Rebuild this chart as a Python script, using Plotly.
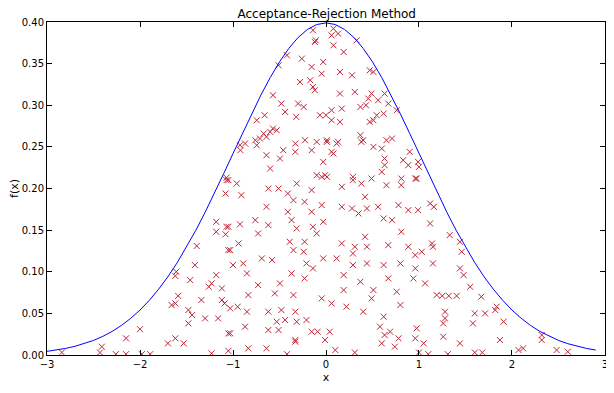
import plotly.graph_objects as go

# Normal density curve (x grid and f(x) values)
curve_x = [-3.0, -2.9, -2.8, -2.7, -2.6, -2.5, -2.4, -2.3, -2.2, -2.1,
           -2.0, -1.9, -1.8, -1.7, -1.6, -1.5, -1.4, -1.3, -1.2, -1.1,
           -1.0, -0.9, -0.8, -0.7, -0.6, -0.5, -0.4, -0.3, -0.2, -0.1,
           0.0, 0.1, 0.2, 0.3, 0.4, 0.5, 0.6, 0.7, 0.8, 0.9,
           1.0, 1.1, 1.2, 1.3, 1.4, 1.5, 1.6, 1.7, 1.8, 1.9,
           2.0, 2.1, 2.2, 2.3, 2.4, 2.5, 2.6, 2.7, 2.8, 2.9]
curve_y = [0.0044, 0.0060, 0.0079, 0.0104, 0.0136, 0.0175, 0.0224, 0.0283, 0.0355, 0.0440,
           0.0540, 0.0656, 0.0790, 0.0940, 0.1109, 0.1295, 0.1497, 0.1714, 0.1942, 0.2179,
           0.2420, 0.2661, 0.2897, 0.3123, 0.3332, 0.3521, 0.3683, 0.3814, 0.3910, 0.3970,
           0.3989, 0.3970, 0.3910, 0.3814, 0.3683, 0.3521, 0.3332, 0.3123, 0.2897, 0.2661,
           0.2420, 0.2179, 0.1942, 0.1714, 0.1497, 0.1295, 0.1109, 0.0940, 0.0790, 0.0656,
           0.0540, 0.0440, 0.0355, 0.0283, 0.0224, 0.0175, 0.0136, 0.0104, 0.0079, 0.0060]

# Accepted samples (x, y)
accepted = [
    (-2.84, 0.003), (-2.41, 0.010), (-2.43, 0.003), (-2.26, 0.001), (-2.15, 0.001),
    (-2.15, 0.020), (-2.00, 0.031), (-1.98, 0.001), (-1.89, 0.001), (-1.70, 0.014),
    (-1.62, 0.020), (-1.53, 0.014), (-1.61, 0.100), (-1.62, 0.095), (-1.59, 0.071),
    (-1.66, 0.060), (-1.62, 0.062), (-1.46, 0.090), (-1.41, 0.108), (-1.39, 0.131),
    (-1.48, 0.054), (-1.44, 0.048), (-1.48, 0.038), (-1.34, 0.066), (-1.30, 0.044),
    (-1.23, 0.086), (-1.26, 0.082), (-1.16, 0.044), (-1.18, 0.096), (-1.12, 0.080),
    (-1.12, 0.066), (-1.09, 0.062), (-1.18, 0.148), (-1.18, 0.160), (-1.07, 0.154),
    (-1.08, 0.145), (-1.08, 0.194), (-1.07, 0.210), (-1.23, 0.002), (-1.05, 0.026),
    (-1.05, 0.005), (-1.05, 0.126),
    (-1.07, 0.213), (-0.925, 0.252), (-0.92, 0.246), (-0.87, 0.254), (-0.745, 0.252),
    (-0.76, 0.258), (-0.71, 0.260), (-0.67, 0.266), (-0.64, 0.262), (-0.60, 0.268),
    (-0.57, 0.272), (-0.53, 0.270), (-0.745, 0.282), (-0.66, 0.288), (-0.64, 0.240),
    (-0.60, 0.224), (-0.495, 0.236), (-0.46, 0.246), (-0.33, 0.244), (-0.33, 0.254),
    (-0.226, 0.258), (-0.154, 0.246), (-0.10, 0.256), (0.01, 0.258), (-0.03, 0.232),
    (-0.10, 0.216), (-0.01, 0.216), (-0.57, 0.312), (-0.48, 0.302), (-0.44, 0.292),
    (-0.32, 0.286), (-0.30, 0.302), (-0.24, 0.298), (-0.28, 0.328), (-0.17, 0.330),
    (-0.14, 0.322), (-0.12, 0.318), (-0.154, 0.346), (-0.046, 0.338), (-0.03, 0.352),
    (-0.26, 0.356), (-0.42, 0.360), (-0.51, 0.348), (-0.12, 0.376), (-0.11, 0.378),
    (-0.14, 0.390), (-0.065, 0.288), (0.0, 0.288),
    (0.08, 0.392), (0.13, 0.386), (0.06, 0.384), (0.08, 0.372), (0.19, 0.364),
    (0.33, 0.378), (0.15, 0.340), (0.28, 0.336), (0.47, 0.342), (0.51, 0.340),
    (0.31, 0.316), (0.15, 0.314), (0.49, 0.314), (0.455, 0.308), (0.56, 0.306),
    (0.63, 0.314), (0.67, 0.302), (0.76, 0.294), (0.37, 0.298), (0.43, 0.300),
    (0.06, 0.294), (0.17, 0.296), (0.06, 0.282), (0.15, 0.280), (0.47, 0.280),
    (0.51, 0.282), (0.545, 0.288), (0.62, 0.290), (0.37, 0.264), (0.38, 0.256),
    (0.40, 0.258), (0.65, 0.258), (0.71, 0.260), (0.51, 0.250), (0.60, 0.248),
    (0.01, 0.256), (0.115, 0.254), (0.13, 0.256), (0.06, 0.244), (0.08, 0.242),
    (0.63, 0.236), (0.63, 0.228), (0.60, 0.220), (0.83, 0.234), (0.90, 0.244),
    (0.885, 0.228), (0.99, 0.232), (1.0, 0.226), (0.01, 0.214), (0.29, 0.214),
    (0.49, 0.212), (0.81, 0.212), (0.96, 0.212),
    (-1.05, 0.210), (-0.96, 0.206), (-0.91, 0.192), (-0.62, 0.200), (-0.51, 0.200),
    (-0.315, 0.206), (-0.41, 0.194), (-0.35, 0.186), (-0.154, 0.198), (-0.23, 0.184),
    (-0.046, 0.214), (0.38, 0.206), (0.17, 0.202), (0.29, 0.210), (0.65, 0.204),
    (0.81, 0.204), (0.975, 0.212), (0.42, 0.190), (0.17, 0.178), (0.28, 0.176),
    (0.35, 0.170), (0.44, 0.176), (0.56, 0.178), (0.78, 0.180), (0.885, 0.174),
    (0.99, 0.174), (-0.64, 0.178), (-0.41, 0.172), (-0.154, 0.172), (-0.046, 0.180),
    (-0.76, 0.162), (-0.62, 0.156), (-0.925, 0.157), (-1.05, 0.154), (-0.73, 0.146),
    (-0.37, 0.162), (-0.315, 0.152), (-0.14, 0.154), (-0.10, 0.146), (-0.03, 0.160),
    (0.62, 0.164), (0.71, 0.162), (0.42, 0.142), (0.81, 0.148), (-0.94, 0.134),
    (-1.03, 0.126), (-0.39, 0.136), (-0.35, 0.126), (-0.23, 0.136), (-0.24, 0.124),
    (0.17, 0.134), (0.31, 0.130), (0.44, 0.130), (0.29, 0.122), (0.67, 0.132),
    (0.885, 0.130), (0.96, 0.120), (-0.69, 0.116), (-0.58, 0.114), (-1.0, 0.108),
    (-0.89, 0.110), (-0.21, 0.110), (-0.14, 0.104), (-0.03, 0.116), (0.115, 0.116),
    (0.29, 0.108), (0.44, 0.110), (0.62, 0.108), (0.80, 0.110), (0.96, 0.104),
    (-0.85, 0.098), (-0.37, 0.098), (0.19, 0.096), (0.67, 0.092), (0.94, 0.092),
    (-0.73, 0.084), (-0.495, 0.086), (-0.23, 0.092), (0.37, 0.088), (0.19, 0.078),
    (0.51, 0.078), (0.76, 0.076), (-0.835, 0.072), (-0.55, 0.074), (-0.35, 0.072),
    (-0.046, 0.068), (0.06, 0.062), (0.49, 0.068), (0.80, 0.060), (-1.03, 0.056),
    (-0.95, 0.058), (-0.85, 0.052), (-0.62, 0.052), (-0.48, 0.054), (-0.33, 0.052),
    (0.22, 0.058), (0.40, 0.052), (0.62, 0.046), (-0.53, 0.040), (-0.44, 0.042),
    (-0.315, 0.040), (-0.21, 0.042), (-0.62, 0.030), (-0.51, 0.030), (-0.87, 0.034),
    (-1.03, 0.026), (-0.154, 0.028), (-0.09, 0.028), (0.04, 0.028), (-0.01, 0.018),
    (-0.33, 0.018), (-0.33, 0.016), (0.58, 0.034), (0.63, 0.024), (0.69, 0.028),
    (0.78, 0.020), (0.74, 0.010), (0.60, 0.014), (0.975, 0.032), (0.96, 0.020),
    (-0.835, 0.008), (-0.64, 0.008), (-0.42, 0.001), (0.10, 0.006), (0.31, 0.003),
    (1.0, 0.003),
    (1.12, 0.182), (1.16, 0.178), (1.12, 0.158), (1.33, 0.144), (1.44, 0.136),
    (1.46, 0.124), (1.14, 0.134), (1.15, 0.130), (1.03, 0.124), (1.15, 0.110),
    (1.44, 0.104), (1.48, 0.096), (1.55, 0.082), (1.065, 0.086), (1.19, 0.072),
    (1.25, 0.071), (1.32, 0.071), (1.405, 0.071), (1.67, 0.070), (1.28, 0.052),
    (1.28, 0.044), (1.26, 0.038), (1.60, 0.050), (1.58, 0.038), (1.71, 0.050),
    (1.835, 0.058), (1.82, 0.054), (1.91, 0.040), (1.05, 0.014), (1.26, 0.022),
    (1.44, 0.014), (1.87, 0.018), (1.31, 0.001), (1.60, 0.003), (1.68, 0.003),
    (2.07, 0.006), (2.12, 0.008), (2.32, 0.024), (2.32, 0.018), (2.48, 0.006),
    (2.60, 0.004), (1.10, 0.001),
]
sample_x = [p[0] for p in accepted]
sample_y = [p[1] for p in accepted]

fig = go.Figure()

fig.add_trace(
    go.Scatter(
        x=sample_x,
        y=sample_y,
        mode='markers',
        marker=dict(
            symbol='x-thin-open',
            size=6,
            color='#c02535',
            line=dict(width=1, color='#b8283a')
        ),
        showlegend=False
    )
)

fig.add_trace(
    go.Scatter(
        x=curve_x,
        y=curve_y,
        mode='lines',
        line=dict(color='#0000ff', width=1),
        showlegend=False
    )
)

axis_style = dict(
    showline=True,
    linecolor='black',
    linewidth=1,
    mirror='allticks',
    ticks='inside',
    ticklen=5,
    tickcolor='black',
    showgrid=False,
    zeroline=False,
    automargin=False,
    tickfont=dict(size=10, color='black')
)

# The page body keeps its default 8px margin, so the figure is 8px smaller
# than the window and everything is placed relative to that offset.
fig.update_layout(
    width=606,
    height=385,
    margin=dict(l=39, r=9, t=14, b=38),
    plot_bgcolor='white',
    paper_bgcolor='white',
    font=dict(family='DejaVu Sans', size=11, color='black'),
    title=dict(
        text='Acceptance-Rejection Method',
        x=0.526, xanchor='center',
        y=0.986, yanchor='middle',
        font=dict(size=12)
    ),
    xaxis=dict(
        range=[-3, 3.0001],
        tickvals=[-3, -2, -1, 0, 1, 2, 3],
        ticktext=['\u22123', '\u22122', '\u22121', '0', '1', '2', '3'],
        title=dict(text='x', standoff=4, font=dict(size=11)),
        **axis_style
    ),
    yaxis=dict(
        range=[0, 0.4],
        dtick=0.05,
        tickformat='.2f',
        title=dict(text='f(x)', standoff=6, font=dict(size=11)),
        **axis_style
    )
)

fig.write_html("out.html")
